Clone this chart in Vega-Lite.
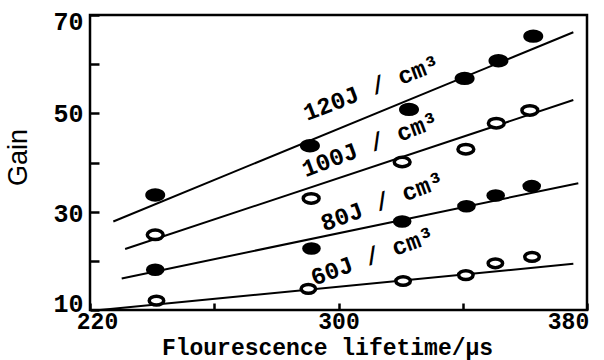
{
  "$schema": "https://vega.github.io/schema/vega-lite/v6.json",
  "width": 497,
  "height": 295,
  "autosize": {"type": "none"},
  "padding": {"left": 90, "top": 15, "right": 17, "bottom": 50},
  "background": "white",
  "config": {
    "view": {"stroke": "black", "strokeWidth": 2.5},
    "axis": {"grid": false, "domain": false, "ticks": true, "tickColor": "black", "tickWidth": 2.5, "labelColor": "black", "titleColor": "black"}
  },
  "datasets": {
    "points": [
      {"series": "120J", "lifetime": 241, "gain": 33.4},
      {"series": "120J", "lifetime": 290.8, "gain": 43.4},
      {"series": "120J", "lifetime": 322.7, "gain": 50.8},
      {"series": "120J", "lifetime": 340.6, "gain": 57.1},
      {"series": "120J", "lifetime": 351.5, "gain": 60.7},
      {"series": "120J", "lifetime": 362.7, "gain": 65.7},
      {"series": "100J", "lifetime": 241, "gain": 25.3},
      {"series": "100J", "lifetime": 291.2, "gain": 32.7},
      {"series": "100J", "lifetime": 320.5, "gain": 40.1},
      {"series": "100J", "lifetime": 341, "gain": 42.7},
      {"series": "100J", "lifetime": 350.8, "gain": 48.0},
      {"series": "100J", "lifetime": 361.6, "gain": 50.6},
      {"series": "80J", "lifetime": 241, "gain": 18.2},
      {"series": "80J", "lifetime": 291.3, "gain": 22.5},
      {"series": "80J", "lifetime": 320.5, "gain": 28.0},
      {"series": "80J", "lifetime": 341.2, "gain": 31.1},
      {"series": "80J", "lifetime": 350.6, "gain": 33.3},
      {"series": "80J", "lifetime": 362.2, "gain": 35.2},
      {"series": "60J", "lifetime": 241.4, "gain": 11.9},
      {"series": "60J", "lifetime": 290.3, "gain": 14.3},
      {"series": "60J", "lifetime": 320.8, "gain": 15.9},
      {"series": "60J", "lifetime": 341, "gain": 17.1},
      {"series": "60J", "lifetime": 350.5, "gain": 19.5},
      {"series": "60J", "lifetime": 362.3, "gain": 20.8}
    ],
    "fits": [
      {"series": "120J", "lifetime": 227.5, "gain": 28.0},
      {"series": "120J", "lifetime": 375.6, "gain": 66.5},
      {"series": "100J", "lifetime": 231.3, "gain": 22.4},
      {"series": "100J", "lifetime": 375.6, "gain": 52.7},
      {"series": "80J", "lifetime": 230.2, "gain": 16.4},
      {"series": "80J", "lifetime": 377.2, "gain": 35.8},
      {"series": "60J", "lifetime": 223.2, "gain": 10.0},
      {"series": "60J", "lifetime": 375.6, "gain": 19.4}
    ],
    "labels": [
      {"series": "120J", "lifetime": 310.7, "gain": 55.0, "label": "120J / cm³"},
      {"series": "100J", "lifetime": 310.3, "gain": 43.5, "label": "100J / cm³"},
      {"series": "80J", "lifetime": 314.2, "gain": 31.9, "label": "80J / cm³"},
      {"series": "60J", "lifetime": 311, "gain": 20.8, "label": "60J / cm³"}
    ]
  },
  "encoding": {
    "x": {
      "field": "lifetime",
      "type": "quantitative",
      "scale": {"domain": [220, 380], "nice": false, "zero": false},
      "axis": {
        "title": "Flourescence lifetime/μs",
        "values": [220, 260, 300, 340, 380],
        "labelExpr": "datum.value == 260 || datum.value == 340 ? '' : datum.label",
        "ticks": true,
        "tickSize": -7,
        "labelPadding": 7,
        "labelFlush": false,
        "labelOverlap": false,
        "labelFont": "Liberation Mono",
        "labelFontSize": 23,
        "labelFontWeight": "bold",
        "labelOffset": {"condition": [{"test": "datum.value == 220", "value": 7}, {"test": "datum.value == 380", "value": -19}], "value": 0},
        "titleFont": "Liberation Mono",
        "titleFontSize": 23,
        "titleFontWeight": "bold",
        "titleX": 237,
        "titleY": 44,
        "titleBaseline": "alphabetic"
      }
    },
    "y": {
      "field": "gain",
      "type": "quantitative",
      "scale": {"domain": [10, 70], "nice": false, "zero": false},
      "axis": {
        "title": "Gain",
        "values": [10, 20, 30, 40, 50, 60, 70],
        "labelExpr": "datum.value % 20 == 10 ? datum.label : ''",
        "ticks": true,
        "tickSize": -9,
        "labelPadding": 16,
        "labelFlush": false,
        "labelOverlap": false,
        "labelFont": "Liberation Mono",
        "labelFontSize": 25,
        "labelFontWeight": "bold",
        "labelOffset": {"condition": [{"test": "datum.value == 70", "value": 6}, {"test": "datum.value == 10", "value": -7}, {"test": "datum.value == 30", "value": 2}], "value": 0},
        "titleFont": "Liberation Sans",
        "titleFontSize": 27,
        "titleFontWeight": "normal",
        "titleX": -72,
        "titleY": 142,
        "titleAlign": "center",
        "titleBaseline": "middle",
        "titleAngle": 270
      }
    }
  },
  "layer": [
    {
      "data": {"name": "fits"},
      "mark": {"type": "line", "color": "black", "strokeWidth": 2},
      "encoding": {"detail": {"field": "series", "type": "nominal"}}
    },
    {
      "data": {"name": "points"},
      "mark": {"type": "point", "shape": "M-1,0A1,0.6 0 1,0 1,0A1,0.6 0 1,0 -1,0Z", "filled": true, "stroke": "black", "strokeWidth": 3.5, "opacity": 1},
      "encoding": {
        "fill": {"field": "series", "type": "nominal", "scale": {"domain": ["120J", "100J", "80J", "60J"], "range": ["black", "white", "black", "white"]}, "legend": null},
        "size": {"field": "series", "type": "nominal", "scale": {"domain": ["120J", "100J", "80J", "60J"], "range": [272, 210, 272, 210]}, "legend": null}
      }
    },
    {
      "data": {"name": "labels"},
      "mark": {"type": "text", "font": "Liberation Mono", "fontSize": 24, "fontWeight": "bold", "color": "black", "align": "center", "baseline": "middle"},
      "encoding": {
        "text": {"field": "label", "type": "nominal"},
        "angle": {"field": "series", "type": "nominal", "scale": {"domain": ["120J", "100J", "80J", "60J"], "range": [339, 340, 340, 342]}, "legend": null}
      }
    }
  ]
}
